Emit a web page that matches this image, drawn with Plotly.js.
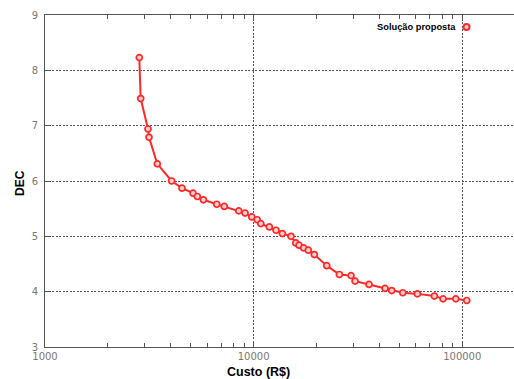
<!DOCTYPE html>
<html>
<head>
<meta charset="utf-8">
<script src="https://cdn.plot.ly/plotly-3.0.1.min.js"></script>
<style>
html,body{margin:0;padding:0;background:#fff;}
#chart{width:514px;height:379px;}
</style>
</head>
<body>
<div id="chart"></div>
<script>
// Data
var custo = [2831, 2875, 3117, 3151, 3453, 4046, 4536, 5123, 5371, 5741, 6654, 7237, 8484, 9094, 9797,
             10400, 10815, 11893, 12804, 13729, 15106, 15919, 16504, 17380, 18280, 19540, 22410,
             25770, 29300, 30640, 35740, 42640, 45900, 51850, 60950, 73500, 80900, 93100, 105100];
var dec = [8.23, 7.49, 6.94, 6.79, 6.31, 6.00, 5.87, 5.78, 5.72, 5.66, 5.58, 5.54, 5.46, 5.42, 5.35,
           5.30, 5.23, 5.17, 5.11, 5.05, 5.00, 4.88, 4.84, 4.79, 4.75, 4.67, 4.47,
           4.31, 4.29, 4.19, 4.13, 4.06, 4.02, 3.98, 3.96, 3.92, 3.87, 3.87, 3.84];
var xTickVals = [1000, 10000, 100000];
var xTickText = ['1000', '10000', '100000'];
var xMinorVals = [2000, 3000, 4000, 5000, 6000, 7000, 8000, 9000,
                  20000, 30000, 40000, 50000, 60000, 70000, 80000, 90000];
var yTickVals = [3, 4, 5, 6, 7, 8, 9];
var seriesName = 'Solução proposta';

var red = 'rgb(255,40,40)';

var trace = {
  x: custo, y: dec, type: 'scatter', mode: 'lines+markers', name: seriesName,
  showlegend: false,
  line: {color: red, width: 2},
  marker: {symbol: 'circle', size: 6, color: 'rgb(255,210,210)', line: {color: red, width: 1.7}}
};
// empty trace so the top (mirror) axis with its minor ticks is drawn
var topAxisTrace = {x: [], y: [], type: 'scatter', mode: 'markers', xaxis: 'x2', yaxis: 'y', showlegend: false, hoverinfo: 'skip'};

var tickFont = {family: 'DejaVu Sans, sans-serif', size: 10, color: '#777'};
var gridDash = '2px,1.5px';

var layout = {
  width: 514, height: 379,
  margin: {l: 45, r: 0, t: 15, b: 32, pad: 0},
  paper_bgcolor: '#fff', plot_bgcolor: '#fff',
  showlegend: false,
  xaxis: {
    type: 'log', range: [3, 5.248], autorange: false,
    tickmode: 'array', tickvals: xTickVals, ticktext: xTickText,
    ticks: 'inside', ticklen: 4, tickcolor: '#555',
    showline: true, linecolor: '#555', linewidth: 1, mirror: false,
    showgrid: true, gridcolor: '#555', gridwidth: 1, griddash: gridDash,
    minor: {tickmode: 'array', tickvals: xMinorVals, ticks: 'inside', ticklen: 4, tickcolor: '#555', showgrid: false},
    tickfont: tickFont, zeroline: false
  },
  xaxis2: {
    type: 'log', range: [3, 5.248], autorange: false, overlaying: 'x', side: 'top', anchor: 'y',
    tickmode: 'array', tickvals: xTickVals, showticklabels: false,
    ticks: 'inside', ticklen: 4, tickcolor: '#555',
    showline: true, linecolor: '#555', linewidth: 1,
    showgrid: false, zeroline: false,
    minor: {tickmode: 'array', tickvals: xMinorVals, ticks: 'inside', ticklen: 4, tickcolor: '#555', showgrid: false}
  },
  yaxis: {
    range: [3, 9], autorange: false,
    tickmode: 'array', tickvals: yTickVals,
    ticks: 'inside', ticklen: 5, tickcolor: '#555',
    showline: true, linecolor: '#555', linewidth: 1, mirror: false,
    showgrid: true, gridcolor: '#555', gridwidth: 1, griddash: gridDash,
    tickfont: tickFont, zeroline: false, ticklabelstandoff: 4
  },
  annotations: [
    {text: '<b>Custo (R$)</b>', xref: 'paper', yref: 'paper', x: 0.4542, y: -0.0753,
     xanchor: 'center', yanchor: 'middle', showarrow: false,
     font: {family: 'Liberation Sans, Arial, sans-serif', size: 12.5, color: '#000'}},
    {text: '<b>DEC</b>', xref: 'paper', yref: 'paper', x: -0.0533, y: 0.494,
     xanchor: 'center', yanchor: 'middle', showarrow: false, textangle: -90,
     font: {family: 'Liberation Sans, Arial, sans-serif', size: 12, color: '#000'}},
    {text: '<b>' + seriesName + '</b>', xref: 'paper', yref: 'paper', x: 0.8806, y: 0.9639,
     xanchor: 'right', yanchor: 'middle', showarrow: false,
     font: {family: 'Liberation Sans, Arial, sans-serif', size: 9.3, color: '#000'}}
  ],
  shapes: [
    {type: 'circle', xref: 'paper', yref: 'paper', xsizemode: 'pixel', ysizemode: 'pixel',
     xanchor: 0.8987, yanchor: 0.9639, x0: -3, x1: 3, y0: -3, y1: 3,
     line: {color: red, width: 2}, fillcolor: 'rgb(255,210,210)'}
  ]
};

Plotly.newPlot('chart', [trace, topAxisTrace], layout, {staticPlot: true, displayModeBar: false});
</script>
</body>
</html>
